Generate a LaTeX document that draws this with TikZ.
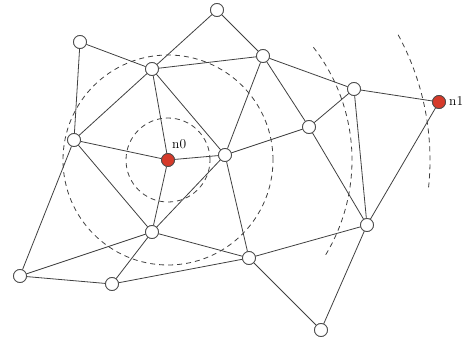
\documentclass[tikz,border=0pt]{standalone}
\definecolor{nodered}{RGB}{214,58,42}
\begin{document}
\begin{tikzpicture}[x=1pt,y=1pt,
  vtx/.style={circle,draw=black!70,fill=white,line width=0.8pt,minimum size=13pt,inner sep=0pt},
  src/.style={circle,draw=black!70,fill=nodered,line width=0.8pt,minimum size=13pt,inner sep=0pt},
  edge/.style={draw=black!75,line width=0.8pt},
  ring/.style={draw=black!75,line width=0.8pt,dash pattern=on 5pt off 4pt},
  lab/.style={font=\fontsize{13.5}{15}\selectfont,inner sep=0pt}]
\useasboundingbox (0,0) rectangle (464,-343);
% nodes
\node[vtx] (A) at (217,-10) {};
\node[vtx] (B) at (80,-42) {};
\node[vtx] (C) at (152,-69) {};
\node[vtx] (D) at (263,-56) {};
\node[vtx] (E) at (354,-89) {};
\node[src] (n1) at (439,-102) {};
\node[vtx] (F) at (309,-127) {};
\node[vtx] (G) at (74,-140) {};
\node[src] (n0) at (168,-160) {};
\node[vtx] (H) at (225,-155) {};
\node[vtx] (I) at (152,-232) {};
\node[vtx] (J) at (367,-225) {};
\node[vtx] (K) at (20,-276) {};
\node[vtx] (L) at (112,-284) {};
\node[vtx] (M) at (249,-258) {};
\node[vtx] (N) at (321,-330) {};
% rings
\draw[ring] (n0.center) circle[radius=42pt];
\draw[ring] (n0.center) circle[radius=105pt];
\draw[ring] (n0.center) ++(-31:184pt) arc[start angle=-31,end angle=39,radius=184pt];
\draw[ring] (n0.center) ++(-6:262pt) arc[start angle=-6,end angle=29,radius=262pt];
% edges
\foreach \a/\b in {B/C,B/G,G/K,A/C,A/D,C/D,C/G,C/n0,C/H,D/H,D/E,D/F,E/F,E/n1,E/J,n1/J,F/H,F/J,G/n0,G/I,n0/H,n0/I,H/I,H/M,I/K,I/L,I/M,K/L,L/M,M/J,M/N,N/J}
  \path[edge] (\a) -- (\b);
% redraw nodes on top
\foreach \n in {A,B,C,D,E,F,G,H,I,J,K,L,M,N}
  \node[vtx] at (\n) {};
\node[src] at (n0) {};
\node[src] at (n1) {};
\node[lab,anchor=base west] (l0) at (172,-148) {n0};
\node[lab,anchor=base west] (l1) at (449,-105) {n1};
\end{tikzpicture}
\end{document}
